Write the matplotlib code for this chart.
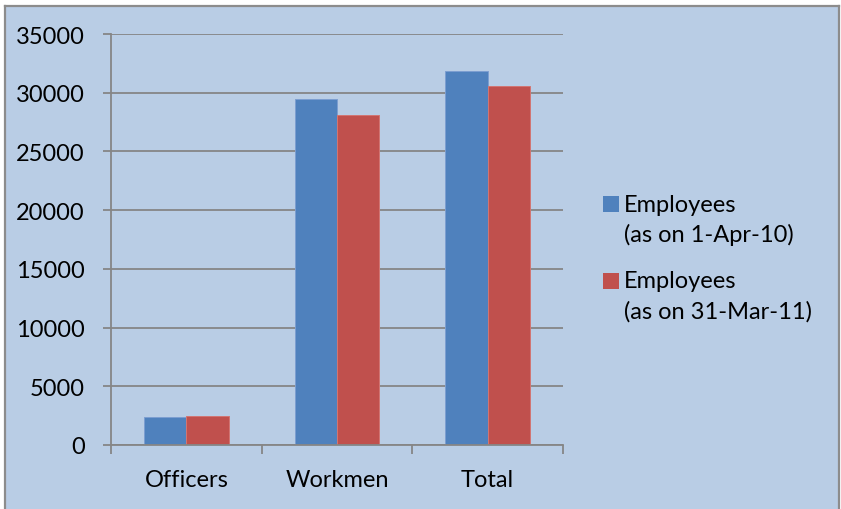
import matplotlib
matplotlib.use("Agg")
import matplotlib.pyplot as plt
from matplotlib.patches import Rectangle
from matplotlib.lines import Line2D
import numpy as np

categories = ["Officers", "Workmen", "Total"]
series_labels = ["Employees\n(as on 1-Apr-10)", "Employees\n(as on 31-Mar-11)"]
apr_2010 = [2380, 29460, 31880]
mar_2011 = [2480, 28080, 30570]
y_ticks = [0, 5000, 10000, 15000, 20000, 25000, 30000, 35000]

BG = "#B9CDE5"
BLUE = "#4F81BD"
RED = "#C0504D"
GRID = "#868686"
FONT = "Lato"
FS = 17

W, H = 841, 510
fig = plt.figure(figsize=(W / 100, H / 100), dpi=100, facecolor="white")

def fx(px):
    return px / W

def fy(py):
    return 1 - py / H

# chart area background and frame
fig.patches.append(Rectangle((fx(4), 0), fx(839) - fx(4), fy(6), transform=fig.transFigure,
                             facecolor=BG, edgecolor="none", zorder=-5))
for xs, ys in [([fx(4.5), fx(4.5)], [0, fy(6.5)]),
               ([fx(4.5), fx(838.5)], [fy(6.5), fy(6.5)]),
               ([fx(838.5), fx(838.5)], [0, fy(6.5)])]:
    fig.lines.append(Line2D(xs, ys, transform=fig.transFigure, color="#8C8C8C", lw=1.6, zorder=-4))

ax = fig.add_axes([fx(111), fy(446), fx(563) - fx(111), fy(35) - fy(446)])
ax.set_facecolor("none")

x = np.arange(len(categories))
bw = 0.282
ax.bar(x - bw / 2, apr_2010, bw, color=BLUE, edgecolor="#7C9ED0", linewidth=0.7, zorder=3)
ax.bar(x + bw / 2, mar_2011, bw, color=RED, edgecolor="#D27572", linewidth=0.7, zorder=3)

ax.set_xlim(-0.5, len(categories) - 0.5)
ax.set_ylim(0, 35000)
ax.set_yticks(y_ticks)
ax.set_yticklabels([str(v) for v in y_ticks], fontsize=FS, family=FONT)
ax.set_xticks(x)
ax.set_xticklabels(categories, fontsize=FS, family=FONT)
ax.tick_params(axis="x", length=0, pad=17)
ax.set_xticks(np.arange(len(categories) + 1) - 0.5, minor=True)
ax.tick_params(axis="x", which="minor", length=6.5, width=1.3, color=GRID, direction="out")
ax.tick_params(axis="y", length=5.8, width=1.3, color=GRID, direction="out", pad=13)

ax.yaxis.grid(True, color=GRID, lw=1.3, zorder=1)
ax.set_axisbelow(True)
for s in ["top", "right"]:
    ax.spines[s].set_visible(False)
for s in ["left", "bottom"]:
    ax.spines[s].set_color(GRID)
    ax.spines[s].set_linewidth(1.3)
    ax.spines[s].set_zorder(4)

# legend drawn beside the plot
colors = [BLUE, RED]
first_line_y = [205, 282]
for lab, col, py in zip(series_labels, colors, first_line_y):
    fig.patches.append(Rectangle((fx(603), fy(py + 8)), fx(619) - fx(603), fy(py - 8) - fy(py + 8),
                                 transform=fig.transFigure, facecolor=col, edgecolor="none"))
    for i, line in enumerate(lab.split("\n")):
        fig.text(fx(624), fy(py + 30 * i), line, fontsize=FS, family=FONT,
                 ha="left", va="center", color="black")

fig.savefig("out.png", dpi=100, facecolor="white")
